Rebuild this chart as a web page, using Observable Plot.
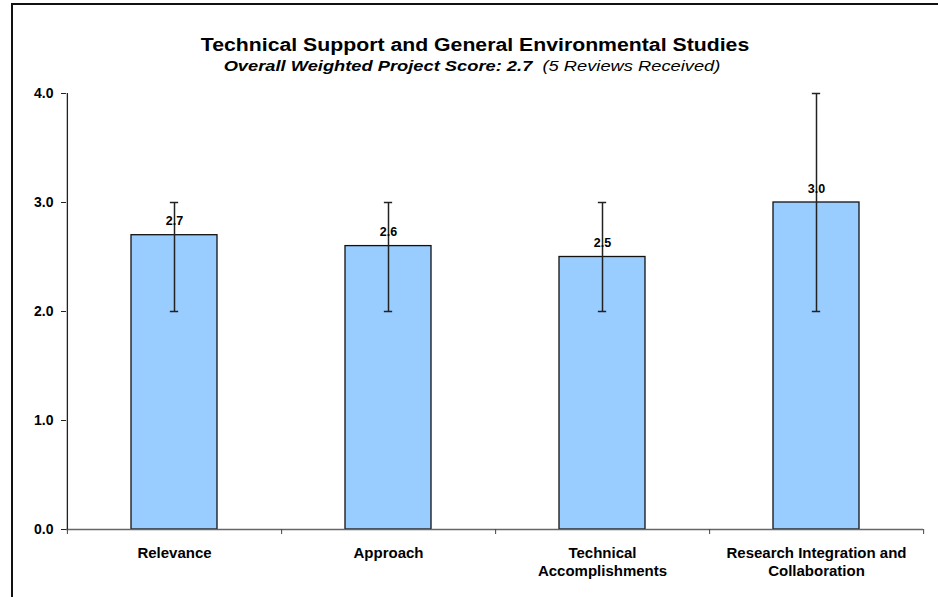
<!DOCTYPE html>
<html>
<head>
<meta charset="utf-8">
<script src="https://cdn.jsdelivr.net/npm/d3@7"></script>
<script src="https://cdn.jsdelivr.net/npm/@observablehq/plot@0.6"></script>
<style>
  html, body { margin: 0; padding: 0; background: #fff; overflow: hidden; }
  #wrap { position: relative; width: 938px; height: 597px; overflow: hidden; font-family: "Liberation Sans", Arial, sans-serif; }
  #frame { position: absolute; left: 11px; top: 3px; width: 1000px; height: 1000px; border: 2px solid #111; box-sizing: border-box; }
  .ttl { position: absolute; left: 0; width: 938px; text-align: center; color: #000; white-space: nowrap; }
  #t1 { top: 35px; font-size: 18px; font-weight: bold; line-height: 20px; transform: translateX(6px) scaleX(1.18); }
  #t2 { top: 57px; font-size: 15.5px; font-style: italic; line-height: 18px; transform: translateX(3px) scaleX(1.18); }
  #chart { position: absolute; left: 0; top: 0; }
</style>
</head>
<body>
<div id="wrap">
  <div id="frame"></div>
  <div id="chart"></div>
  <div class="ttl" id="t1">Technical Support and General Environmental Studies</div>
  <div class="ttl" id="t2"><b>Overall Weighted Project Score: 2.7</b>&nbsp; (5 Reviews Received)</div>
</div>
<script>
// ---- data ----
const categories = ["Relevance", "Approach", "Technical Accomplishments", "Research Integration and Collaboration"];
const tickLabels = ["Relevance", "Approach", "Technical\nAccomplishments", "Research Integration and\nCollaboration"];
const scores = [2.7, 2.6, 2.5, 3.0];
const lows = [2.0, 2.0, 2.0, 2.0];
const highs = [3.0, 3.0, 3.0, 4.0];
const yTicks = [0, 1, 2, 3, 4];

const rows = categories.map((c, i) => ({category: c, score: scores[i], low: lows[i], high: highs[i]}));
const labelOf = new Map(categories.map((c, i) => [c, tickLabels[i]]));

const W = 938, H = 597;
const mL = 66, mR = 15, mT = 93, mB = 68;
const padIn = 0.6, padOut = 0.3;
const step = (W - mL - mR) / (categories.length - padIn + 2 * padOut);
const bandW = step * (1 - padIn);
const capW = 8;

const chart = Plot.plot({
  width: W,
  height: H,
  marginLeft: mL,
  marginRight: mR,
  marginTop: mT,
  marginBottom: mB,
  style: {fontFamily: "'Liberation Sans', Arial, sans-serif", color: "#000", background: "transparent", overflow: "visible"},
  x: {type: "band", domain: categories, paddingInner: padIn, paddingOuter: padOut, label: null},
  y: {domain: [0, 4], label: null},
  marks: [
    // y axis
    Plot.axisY({ticks: yTicks, tickFormat: d3.format(".1f"), tickSize: 5, tickPadding: 8,
      fontSize: 14, fontWeight: "bold", stroke: "#222", label: null}),
    // bars
    Plot.barY(rows, {x: "category", y: "score", fill: "#99CCFF", stroke: "#111", strokeWidth: 1.3}),
    // baseline
    Plot.ruleY([0], {stroke: "#666", strokeWidth: 1.3}),
    // y-axis line at left edge of first band step
    Plot.ruleX([categories[0]], {x: d => d, y1: 0, y2: 4, dx: -step / 2, stroke: "#222", strokeWidth: 1.3}),
    // boundary ticks on x axis
    Plot.axisX({ticks: categories, tickSize: 5, tickFormat: () => "", dx: step / 2, stroke: "#444", label: null}),
    Plot.axisX({ticks: [categories[0]], tickSize: 5, tickFormat: () => "", dx: -step / 2, stroke: "#444", label: null}),
    // x tick labels
    Plot.axisX({ticks: categories, tickSize: 0, tickPadding: 16, tickFormat: d => labelOf.get(d),
      fontSize: 15, fontWeight: "bold", lineHeight: 1.2, label: null}),
    // error bars
    Plot.ruleX(rows, {x: "category", y1: "low", y2: "high", stroke: "#222", strokeWidth: 1.5}),
    Plot.tickY(rows, {x: "category", y: "low", stroke: "#222", strokeWidth: 1.5,
      insetLeft: (bandW - capW) / 2, insetRight: (bandW - capW) / 2}),
    Plot.tickY(rows, {x: "category", y: "high", stroke: "#222", strokeWidth: 1.5,
      insetLeft: (bandW - capW) / 2, insetRight: (bandW - capW) / 2}),
    // value labels
    Plot.text(rows, {x: "category", y: "score", text: d => d3.format(".1f")(d.score), dy: -14,
      fontSize: 12.5, fontWeight: "bold", fill: "#000"})
  ]
});
document.getElementById("chart").appendChild(chart);
</script>
</body>
</html>
